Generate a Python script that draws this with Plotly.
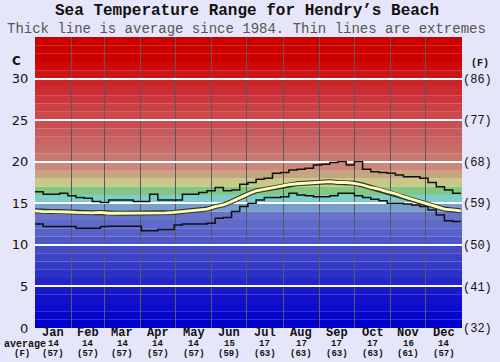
import plotly.graph_objects as go

# ---------------- data ----------------
months = ["Jan", "Feb", "Mar", "Apr", "May", "Jun", "Jul", "Aug", "Sep", "Oct", "Nov", "Dec"]
month_days = [31, 28, 31, 30, 31, 30, 31, 31, 30, 31, 30, 31]
month_avg_c = [14, 14, 14, 14, 14, 15, 17, 17, 17, 17, 16, 14]
month_avg_f = [57, 57, 57, 57, 57, 59, 63, 63, 63, 63, 61, 57]

# sample day-of-year (weekly)
days = list(range(0, 365, 7))

temp_max = [16.4, 16.1, 16.1, 16.2, 15.9, 15.7, 15.6, 15.2, 15.1, 15.4, 15.4, 15.4, 15.2,
            15.2, 16.1, 15.4, 15.4, 15.4, 16.1, 16.1, 16.3, 16.5, 16.9, 16.5, 16.6, 17.3,
            17.5, 17.9, 18.0, 18.6, 18.7, 19.0, 19.1, 19.2, 19.6, 19.7, 19.9, 20.0, 19.6,
            20.0, 19.1, 18.8, 18.7, 18.6, 18.4, 18.2, 18.2, 18.0, 17.5, 17.0, 16.6, 16.2, 16.2]
temp_avg = [14.1, 14.0, 14.0, 14.0, 13.95, 13.9, 13.85, 13.85, 13.9, 13.8, 13.8, 13.8, 13.8,
            13.8, 13.8, 13.8, 13.85, 13.9, 14.0, 14.1, 14.2, 14.3, 14.6, 14.8, 15.2, 15.7,
            16.1, 16.5, 16.7, 16.9, 17.1, 17.25, 17.35, 17.4, 17.5, 17.55, 17.6, 17.5, 17.5,
            17.4, 17.2, 16.9, 16.7, 16.4, 16.15, 15.8, 15.5, 15.2, 14.9, 14.6, 14.3, 14.2, 14.1]
temp_min = [12.5, 12.2, 12.2, 12.2, 12.2, 12.0, 12.0, 12.0, 12.2, 12.25, 12.25, 12.25, 12.25,
            11.7, 11.7, 11.85, 11.85, 12.4, 12.5, 12.5, 12.5, 12.6, 13.2, 13.3, 14.0, 14.6,
            15.0, 15.4, 15.7, 15.7, 15.8, 16.2, 16.0, 15.9, 15.8, 15.8, 15.9, 16.2, 16.2,
            15.9, 15.7, 15.5, 15.3, 15.0, 15.0, 14.9, 14.8, 14.6, 14.2, 13.6, 12.9, 12.8, 12.8]

c_ticks = [0, 5, 10, 15, 20, 25, 30]
f_labels = ["(32)", "(41)", "(50)", "(59)", "(68)", "(77)", "(86)"]

# background colour bands, one per degree C (lower edge)
band_lows = list(range(0, 35))
band_colors = [
    "rgb(0,0,205)", "rgb(5,5,205)", "rgb(12,12,205)", "rgb(18,18,202)", "rgb(25,25,200)",
    "rgb(35,38,200)", "rgb(45,50,198)", "rgb(52,58,198)", "rgb(60,66,198)", "rgb(68,74,198)",
    "rgb(80,88,200)", "rgb(88,98,202)", "rgb(95,106,202)", "rgb(103,116,202)", "rgb(120,160,205)",
    "rgb(125,205,205)", "rgb(130,200,130)", "rgb(200,200,135)", "rgb(200,165,130)", "rgb(205,135,125)",
    "rgb(198,120,112)", "rgb(200,110,105)", "rgb(200,100,100)", "rgb(200,90,92)", "rgb(200,80,85)",
    "rgb(205,72,75)", "rgb(205,64,68)", "rgb(205,55,60)", "rgb(205,45,50)", "rgb(205,35,40)",
    "rgb(205,20,20)", "rgb(205,10,10)", "rgb(205,0,0)", "rgb(205,0,0)", "rgb(205,0,0)",
]

# ---------------- derived positions ----------------
bounds = [0]
for d in month_days:
    bounds.append(bounds[-1] + d)
centers = [(bounds[i] + bounds[i + 1]) / 2 for i in range(12)]

fig = go.Figure()

fig.add_trace(go.Scatter(x=days, y=temp_max, mode="lines", line=dict(color="#111", width=1.5, shape="hv"),
                         hoverinfo="skip", showlegend=False))
fig.add_trace(go.Scatter(x=days, y=temp_min, mode="lines", line=dict(color="#111", width=1.5, shape="hv"),
                         hoverinfo="skip", showlegend=False))
fig.add_trace(go.Scatter(x=days, y=temp_avg, mode="lines", line=dict(color="#333", width=5),
                         hoverinfo="skip", showlegend=False))
fig.add_trace(go.Scatter(x=days, y=temp_avg, mode="lines", line=dict(color="#ffffb0", width=2.8),
                         hoverinfo="skip", showlegend=False))
# dummy trace for the right (F) axis
fig.add_trace(go.Scatter(x=days, y=temp_avg, yaxis="y2", mode="lines", line=dict(width=0),
                         opacity=0, hoverinfo="skip", showlegend=False))

shapes = []
for lo, col in zip(band_lows, band_colors):
    shapes.append(dict(type="rect", xref="paper", yref="y", x0=0, x1=1, y0=lo, y1=lo + 1,
                       fillcolor=col, line=dict(width=0), layer="below"))

annotations = [
    dict(text="<b>Sea Temperature Range for Hendry’s Beach</b>", xref="paper", yref="paper",
         x=0.5, y=1, yanchor="middle", yshift=26, xshift=-2, showarrow=False,
         font=dict(family="Liberation Mono", size=16, color="#111")),
    dict(text="Thick line is average since 1984. Thin lines are extremes", xref="paper", yref="paper",
         x=0.5, y=1, yanchor="middle", yshift=8, xshift=-2, showarrow=False,
         font=dict(family="Liberation Mono", size=14, color="#555")),
    dict(text="<b>C</b>", xref="paper", yref="paper", x=0, y=1, xshift=-19, yshift=-24,
         xanchor="center", yanchor="middle", showarrow=False,
         font=dict(family="DejaVu Sans", size=12, color="#111")),
    dict(text="<b>(F)</b>", xref="paper", yref="paper", x=1, y=1, xshift=18, yshift=-26,
         xanchor="center", yanchor="middle", showarrow=False,
         font=dict(family="Liberation Mono", size=10, color="#111")),
    dict(text="<b>average</b>", xref="paper", yref="paper", x=0, y=0, xshift=-10, yshift=-16,
         xanchor="center", yanchor="middle", showarrow=False,
         font=dict(family="Liberation Mono", size=10, color="#111")),
    dict(text="<b>(F)</b>", xref="paper", yref="paper", x=0, y=0, xshift=-13, yshift=-26,
         xanchor="center", yanchor="middle", showarrow=False,
         font=dict(family="Liberation Mono", size=9, color="#111")),
]
for m, cx, ac, af in zip(months, centers, month_avg_c, month_avg_f):
    annotations.append(dict(text=f"<b>{m}</b>", x=cx, xref="x", y=0, yref="paper", yshift=-5,
                            yanchor="middle", showarrow=False,
                            font=dict(family="Liberation Mono", size=12, color="#111")))
    annotations.append(dict(text=f"<b>{ac}</b>", x=cx, xref="x", y=0, yref="paper", yshift=-16,
                            yanchor="middle", showarrow=False,
                            font=dict(family="Liberation Mono", size=9, color="#111")))
    annotations.append(dict(text=f"<b>({af})</b>", x=cx, xref="x", y=0, yref="paper", yshift=-26,
                            yanchor="middle", showarrow=False,
                            font=dict(family="Liberation Mono", size=9, color="#111")))

fig.update_layout(
    width=500, height=362,
    margin=dict(l=35, r=38, t=37, b=34, autoexpand=False),
    paper_bgcolor="#e6e6fa",
    plot_bgcolor="#e6e6fa",
    shapes=shapes,
    annotations=annotations,
    showlegend=False,
    xaxis=dict(range=[0, 365], tickvals=bounds[1:-1], showticklabels=False, showgrid=True,
               gridcolor="#5a5a5a", gridwidth=1, zeroline=False, ticks="", fixedrange=True,
               automargin=False),
    yaxis=dict(range=[0, 35], tickvals=c_ticks, ticktext=[str(v) for v in c_ticks],
               showgrid=True, gridcolor="white", gridwidth=2, zeroline=False,
               ticks="outside", ticklen=3, tickcolor="rgba(0,0,0,0)", automargin=False,
               tickfont=dict(family="DejaVu Sans", size=13, color="#111")),
    yaxis2=dict(range=[0, 35], overlaying="y", side="right", tickvals=c_ticks, ticktext=f_labels,
                showgrid=False, zeroline=False, ticks="", automargin=False,
                tickfont=dict(family="Liberation Mono", size=12, color="#111")),
)

fig.write_html("out.html", config={"displayModeBar": False},
               post_script="document.body.style.margin='0';")
